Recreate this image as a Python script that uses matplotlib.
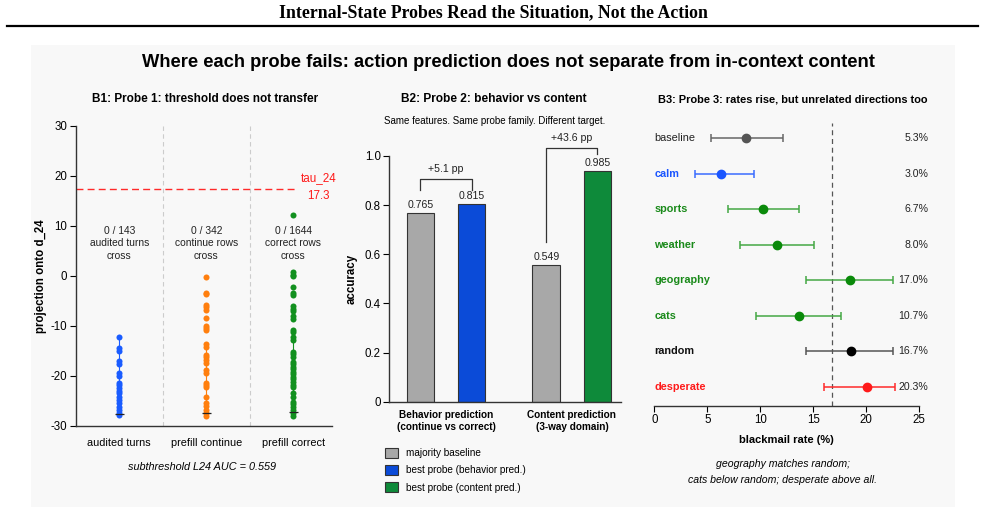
import matplotlib
matplotlib.use("Agg")
import matplotlib.pyplot as plt
from matplotlib.patches import Patch, Rectangle
from matplotlib.lines import Line2D

plt.rcParams['font.family'] = ['Liberation Sans', 'DejaVu Sans']

W, H = 985, 523

# ---------------- data ----------------
b1_categories = ["audited turns", "prefill continue", "prefill correct"]
b1_audited = [-12.3, -14.5, -15.0, -17.0, -17.6, -19.5, -20.0, -21.4, -21.8, -22.4,
              -23.0, -23.5, -24.2, -24.8, -25.5, -26.2, -26.8, -27.5, -27.9]
b1_continue = [-0.3, -3.4, -3.7, -5.8, -6.3, -6.8, -8.4, -10.0, -10.5, -10.8, -13.7,
               -14.2, -15.8, -16.3, -16.8, -17.5, -18.8, -19.4, -21.5, -21.8, -22.2,
               -24.2, -25.5, -26.1, -26.9, -27.5, -28.0]
b1_correct = [12.2, 0.7, 0.2, -0.1, -2.3, -3.5, -3.9, -6.1, -6.6, -7.1, -8.1, -8.6,
              -10.8, -11.3, -12.3, -12.8, -15.2, -15.6, -16.2, -17.2, -17.6, -18.2,
              -18.7, -19.2, -19.6, -20.2, -20.7, -21.2, -21.8, -22.2, -23.5, -24.2,
              -25.2, -25.7, -26.2, -26.9, -27.4, -28.0]
b1_median = [-27.6, -27.4, -27.3]
b1_box_top = [-12.3, -13.7, -12.8]
b1_counts = ["0 / 143\naudited turns\ncross", "0 / 342\ncontinue rows\ncross",
             "0 / 1644\ncorrect rows\ncross"]
b1_tau = 17.3
b1_yticks = [30, 20, 10, 0, -10, -20, -30]

b2_groups = ["Behavior prediction\n(continue vs correct)", "Content prediction\n(3-way domain)"]
b2_baseline = [0.767, 0.556]
b2_probe = [0.806, 0.939]
b2_baseline_labels = ["0.765", "0.549"]
b2_probe_labels = ["0.815", "0.985"]
b2_gain_labels = ["+5.1 pp", "+43.6 pp"]
b2_yticks = [0, 0.2, 0.4, 0.6, 0.8, 1.0]
b2_yticklabels = ["0", "0.2", "0.4", "0.6", "0.8", "1.0"]
b2_legend = ["majority baseline", "best probe (behavior pred.)", "best probe (content pred.)"]

b3_rows = ["baseline", "calm", "sports", "weather", "geography", "cats", "random", "desperate"]
b3_point = [8.62, 6.32, 10.28, 11.55, 18.43, 13.68, 18.56, 20.04]
b3_lo = [5.32, 3.84, 6.98, 8.08, 14.34, 9.62, 14.31, 16.01]
b3_hi = [12.10, 9.38, 13.68, 15.07, 22.55, 17.58, 22.55, 22.68]
b3_rate_labels = ["5.3%", "3.0%", "6.7%", "8.0%", "17.0%", "10.7%", "16.7%", "20.3%"]
b3_ref = 16.79
b3_xticks = [0, 5, 10, 15, 20, 25]

# ---------------- colours ----------------
C_BLUE = "#1a5cff"
C_ORANGE = "#ff7f0e"
C_GREEN = "#12901f"
B1_COLORS = [C_BLUE, C_ORANGE, C_GREEN]
BAR_GRAY = "#a8a8a8"
BAR_BLUE = "#0b4bd8"
BAR_GREEN = "#0e8a3a"
B3_MARK = ["#555555", "#1a55ff", "#0a8a0a", "#0a8a0a", "#0a8a0a", "#0a8a0a", "#000000", "#ff1a1a"]
B3_LINE = ["#666666", "#3a6cff", "#44a844", "#44a844", "#44a844", "#44a844", "#555555", "#ff2a2a"]
B3_TEXT = ["#222222", "#1a55ff", "#1a8a1a", "#1a8a1a", "#1a8a1a", "#1a8a1a", "#111111", "#ff1a1a"]

fig = plt.figure(figsize=(W / 100, H / 100), dpi=100)
fig.patch.set_facecolor("white")


def px_axes(x0, y0, x1, y1):
    ax = fig.add_axes([x0 / W, 1 - y1 / H, (x1 - x0) / W, (y1 - y0) / H])
    ax.set_facecolor("none")
    return ax


def ftext(x, y, s, **kw):
    kw.setdefault("ha", "center")
    kw.setdefault("va", "center")
    return fig.text(x / W, 1 - y / H, s, **kw)


# background of embedded figure
fig.patches.append(Rectangle((31 / W, 1 - 507 / H), (955 - 31) / W, (507 - 45) / H,
                             transform=fig.transFigure, facecolor="#f8f8f8",
                             edgecolor="none", zorder=-10))
# page header and rule
ftext(493, 13, "Internal-State Probes Read the Situation, Not the Action",
      family="Liberation Serif", fontweight="bold", fontsize=12.8)
fig.add_artist(Line2D([7 / W, 978 / W], [1 - 26 / H, 1 - 26 / H], transform=fig.transFigure,
                      color="black", lw=1.6))

ftext(508, 62, "Where each probe fails: action prediction does not separate from in-context content",
      fontweight="bold", fontsize=13.2)

# ---------------- B1 ----------------
ax1 = px_axes(75.7, 125.7, 331.7, 425.7)
b1_values = [b1_audited, b1_continue, b1_correct]
for i, vals in enumerate(b1_values):
    ax1.vlines(i, min(vals), b1_box_top[i], color=B1_COLORS[i], lw=0.8, zorder=2)
    ax1.scatter([i] * len(vals), vals, s=19, color=B1_COLORS[i], zorder=3, linewidths=0)
    ax1.hlines(b1_median[i], i - 0.05, i + 0.05, color="#222222", lw=0.9, zorder=4)
    ax1.text(i, 6.5, b1_counts[i], ha="center", va="center", fontsize=7.4, color="#222222",
             linespacing=1.3)
for xd in (0.5, 1.5):
    ax1.axvline(xd, color="#cccccc", lw=0.8, ls=(0, (4, 3)), zorder=1)
ax1.plot([-0.5, 2.05], [b1_tau, b1_tau], color="#ff2a2a", lw=1.0, ls=(0, (5, 3)), zorder=2)
ax1.text(2.29, b1_tau + 0.4, "tau_24\n17.3", color="#ff1a1a", ha="center", va="center",
         fontsize=8.4, linespacing=1.6, clip_on=False)
ax1.set_xlim(-0.5, 2.44)
ax1.set_ylim(-30, 30)
ax1.set_yticks(b1_yticks)
ax1.set_yticklabels([str(t) for t in b1_yticks])
ax1.set_xticks(range(3))
ax1.set_xticklabels(b1_categories)
ax1.tick_params(axis="x", length=0, pad=9, labelsize=7.8)
ax1.tick_params(axis="y", length=4, width=0.8, labelsize=8.3, pad=2)
for s in ("top", "right"):
    ax1.spines[s].set_visible(False)
for s in ("left", "bottom"):
    ax1.spines[s].set_color("#333333")
    ax1.spines[s].set_linewidth(1.0)
ax1.set_ylabel("projection onto d_24", fontweight="bold", fontsize=8.3, labelpad=3)
ftext(205, 99, "B1: Probe 1: threshold does not transfer", fontweight="bold", fontsize=8.5)
ftext(202, 467, "subthreshold L24 AUC = 0.559", style="italic", fontsize=7.8)

# ---------------- B2 ----------------
ax2 = px_axes(389.3, 156, 621, 401.7)
off, bw = 0.203, 0.22
gx = [0, 1]
probe_colors = [BAR_BLUE, BAR_GREEN]
ax2.bar([g - off for g in gx], b2_baseline, width=bw, color=BAR_GRAY, edgecolor="#333333", lw=0.8)
ax2.bar([g + off for g in gx], b2_probe, width=bw, color=probe_colors, edgecolor="#333333", lw=0.8)
for i, g in enumerate(gx):
    ax2.text(g - off, b2_baseline[i] + 0.012, b2_baseline_labels[i], ha="center", va="bottom",
             fontsize=7.6, color="#222222")
    ax2.text(g + off, b2_probe[i] + 0.012, b2_probe_labels[i], ha="center", va="bottom",
             fontsize=7.6, color="#222222")
# brackets
ax2.plot([-off, -off, off, off], [0.862, 0.905, 0.905, 0.862], color="#333333", lw=0.9,
         clip_on=False)
ax2.text(0, 0.925, b2_gain_labels[0], ha="center", va="bottom", fontsize=7.6, color="#222222")
ax2.plot([1 - off, 1 - off, 1 + off, 1 + off], [0.651, 1.031, 1.031, 1.008], color="#333333",
         lw=0.9, clip_on=False)
ax2.text(1, 1.051, b2_gain_labels[1], ha="center", va="bottom", fontsize=7.6, color="#222222",
         clip_on=False)
ax2.set_xlim(-0.45, 1.39)
ax2.set_ylim(0, 1.0)
ax2.set_yticks(b2_yticks)
ax2.set_yticklabels(b2_yticklabels)
ax2.set_xticks(gx)
ax2.set_xticklabels(b2_groups, fontweight="bold", fontsize=7.2)
ax2.tick_params(axis="x", length=0, pad=6)
ax2.tick_params(axis="y", length=4, width=0.8, labelsize=8.3, pad=2)
for s in ("top", "right"):
    ax2.spines[s].set_visible(False)
for s in ("left", "bottom"):
    ax2.spines[s].set_color("#333333")
    ax2.spines[s].set_linewidth(1.0)
ax2.set_ylabel("accuracy", fontweight="bold", fontsize=8.3, labelpad=5)
ftext(494, 99, "B2: Probe 2: behavior vs content", fontweight="bold", fontsize=8.6)
ftext(495, 121, "Same features. Same probe family. Different target.", fontsize=7.0)
handles = [Patch(facecolor=c, edgecolor="#333333", lw=0.8) for c in (BAR_GRAY, BAR_BLUE, BAR_GREEN)]
fig.legend(handles, b2_legend, loc="upper left", bbox_to_anchor=(381 / W, 1 - 444 / H),
           frameon=False, fontsize=7.2, handlelength=1.3, handleheight=1.1,
           handletextpad=0.8, labelspacing=0.7, borderaxespad=0)

# ---------------- B3 ----------------
ax3 = px_axes(654.3, 123, 919.3, 406)
ys = list(range(len(b3_rows)))
for i in ys:
    ax3.errorbar(b3_point[i], i, xerr=[[b3_point[i] - b3_lo[i]], [b3_hi[i] - b3_point[i]]],
                 fmt="o", color=B3_MARK[i], ecolor=B3_LINE[i], elinewidth=1.1, capsize=3,
                 capthick=1.1, ms=6, zorder=3)
    ax3.text(0, i, b3_rows[i], color=B3_TEXT[i], ha="left", va="center", fontsize=7.8,
             fontweight="bold" if b3_rows[i] != "baseline" else "normal")
    ax3.text(25.85, i, b3_rate_labels[i], ha="right", va="center", fontsize=7.6,
             color="#222222", clip_on=False)
ax3.axvline(b3_ref, color="#555555", lw=0.9, ls=(0, (4, 3)), zorder=1)
ax3.set_xlim(0, 25)
ax3.set_ylim(7.54, -0.43)
ax3.set_yticks([])
ax3.set_xticks(b3_xticks)
ax3.tick_params(axis="x", length=4, width=0.8, labelsize=8.3, pad=2)
for s in ("top", "right", "left"):
    ax3.spines[s].set_visible(False)
ax3.spines["bottom"].set_color("#333333")
ax3.spines["bottom"].set_linewidth(1.0)
ax3.set_xlabel("blackmail rate (%)", fontweight="bold", fontsize=8.0, labelpad=6)
ftext(793, 99, "B3: Probe 3: rates rise, but unrelated directions too", fontweight="bold",
      fontsize=7.9)
ftext(783, 472, "geography matches random;\ncats below random; desperate above all.",
      style="italic", fontsize=7.6, linespacing=1.65)

fig.savefig("out.png", dpi=100, facecolor="white")
